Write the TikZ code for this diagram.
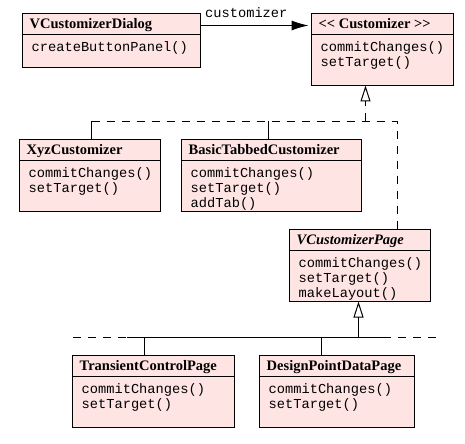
\documentclass[tikz,border=0pt]{standalone}
\usepackage{fontspec}
\setmainfont{Liberation Serif}
\newfontfamily\monofam{Liberation Mono}
\usetikzlibrary{arrows.meta}
\definecolor{boxpink}{RGB}{255,228,228}
\tikzset{
  classbox/.style={draw=black, fill=boxpink, line width=1bp, inner sep=0pt, outer sep=0pt, anchor=north west},
  ttl/.style={font=\fontsize{14.5bp}{15bp}\selectfont\bfseries, anchor=base west, inner sep=0pt, text=black},
  meth/.style={font=\monofam\fontsize{13.7bp}{15bp}\selectfont, anchor=base west, inner sep=0pt, text=black},
  conn/.style={line width=1bp, black},
  dsh/.style={conn, dash pattern=on 8bp off 7bp},
  inh/.style={-{Triangle[open, length=16bp, width=10bp, line width=1bp]}},
  assoc/.style={-{Latex[length=17bp, width=10bp]}},
}
\newcommand\umlclass[7]{%
  \node[classbox, minimum width={(#4-#2)*1bp}, minimum height={(#5-#3)*1bp}] (#1) at (#2+0.5,#3+0.5) {};
  \draw[conn] ([yshift=-21bp]#1.north west) -- ([yshift=-21bp]#1.north east);
  \node[ttl] (#1-t) at ([xshift=7bp,yshift=-15bp]#1.north west) {#6};
  \foreach \m [count=\i] in {#7} {
    \node[meth] (#1-m\i) at ([xshift=9bp,yshift={-38bp-15bp*(\i-1)}]#1.north west) {\m};
  }%
}
\begin{document}
\begin{tikzpicture}[x=1bp,y=-1bp]
\useasboundingbox (0,0) rectangle (465,444);
\umlclass{dlg}{22}{13}{200}{67}{VCustomizerDialog}{createButtonPanel()}
\umlclass{cust}{311}{13}{453}{85}{{<}{<} Customizer {>}{>}}{commitChanges(),setTarget()}
\umlclass{xyz}{19}{139}{160}{211}{XyzCustomizer}{commitChanges(),setTarget()}
\umlclass{btc}{181}{139}{361}{211}{BasicTabbedCustomizer}{commitChanges(),setTarget(),addTab()}
\umlclass{vpage}{289}{229}{430}{301}{\itshape VCustomizerPage}{commitChanges(),setTarget(),makeLayout()}
\umlclass{tcp}{72}{355}{234}{427}{TransientControlPage}{commitChanges(),setTarget()}
\umlclass{dpd}{259}{355}{414}{427}{DesignPointDataPage}{commitChanges(),setTarget()}

% association
\draw[conn, assoc] ([yshift=-12bp]dlg.north east) -- ([yshift=-12bp,xshift=-3bp]cust.north west);
\node[meth] (lbl) at (205,18) {customizer};

% realization of Customizer
\coordinate (a1) at (91.5,121.5);
\coordinate (a2) at (268.5,121.5);
\coordinate (j1) at (365.5,121.5);
\coordinate (a3) at (397.5,121.5);
\draw[dsh] (a1) -- (a3) -- (a3 |- vpage.north);
\draw[dsh, inh] (j1) -- (j1 |- cust.south);
\draw[conn] (a1) -- (a1 |- xyz.north);
\draw[conn] (a2) -- (a2 |- btc.north);

% inheritance of VCustomizerPage
\coordinate (b0) at (73,337.5);
\coordinate (b1) at (127,337.5);
\coordinate (b2) at (144.5,337.5);
\coordinate (b3) at (321.5,337.5);
\coordinate (j2) at (358.5,337.5);
\coordinate (b4) at (383,337.5);
\coordinate (b5) at (442,337.5);
\draw[dsh] (b0) -- (b1);
\draw[dsh] (b4) -- (b5);
\draw[conn] (b1) -- (b4);
\draw[conn, inh] (j2) -- (j2 |- vpage.south);
\draw[conn] (b2) -- (b2 |- tcp.north);
\draw[conn] (b3) -- (b3 |- dpd.north);
\end{tikzpicture}
\end{document}
